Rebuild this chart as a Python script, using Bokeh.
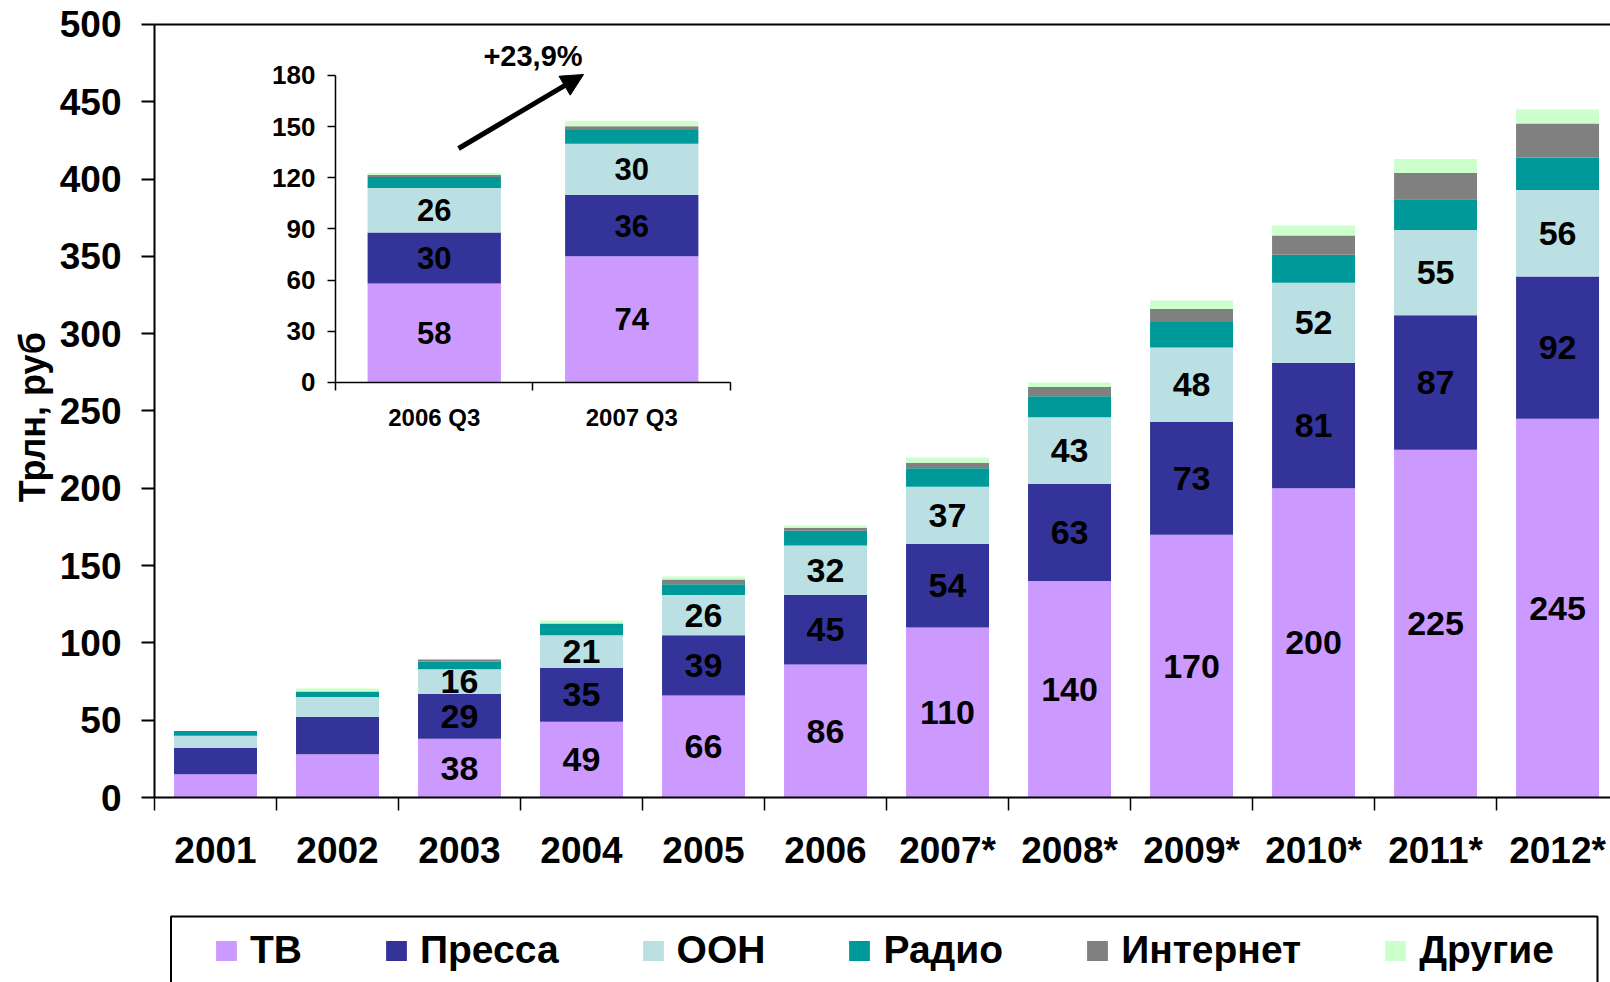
import math
from bokeh.plotting import figure
from bokeh.models import (ColumnDataSource, Range1d, LinearAxis, FixedTicker, Arrow,
                          NormalHead, Label, BoxAnnotation)
from bokeh.core.properties import value
from bokeh.embed import file_html
from bokeh.resources import INLINE

# ---------------- data ----------------
years = ["2001", "2002", "2003", "2004", "2005", "2006",
         "2007*", "2008*", "2009*", "2010*", "2011*", "2012*"]
tv       = [15, 28, 38, 49, 66, 86, 110, 140, 170, 200, 225, 245]
press    = [17, 24, 29, 35, 39, 45, 54, 63, 73, 81, 87, 92]
ooh      = [8, 13, 16, 21, 26, 32, 37, 43, 48, 52, 55, 56]
radio    = [3, 3.5, 5, 7.5, 7, 9.5, 12, 13.5, 16.5, 18, 20, 21]
internet = [0, 0, 1.3, 0, 3, 2, 3.5, 6, 8.5, 12.5, 17, 22]
other    = [0, 2, 0, 2, 2, 1.5, 3.5, 3, 5.5, 6.5, 9, 9]
label_from = 2  # first year whose values are printed in the bars

quarters   = ["2006 Q3", "2007 Q3"]
q_tv       = [58, 74]
q_press    = [30, 36]
q_ooh      = [26, 30]
q_radio    = [6.5, 8]
q_internet = [1.2, 2.3]
q_other    = [1.1, 3]
growth_text = "+23,9%"

series_names = ["ТВ", "Пресса", "ООН", "Радио", "Интернет", "Другие"]
colors = ["#CC99FF", "#333399", "#BBE0E3", "#009999", "#808080", "#CCFFCC"]
y_label = "Трлн, руб"
main_ticks = list(range(0, 501, 50))
inset_ticks = list(range(0, 181, 30))

# annotation placement
arrow_start = (0.623, 137.2)     # inset coordinates
arrow_end = (1.256, 180.6)
growth_pos = (1.0, 191.7)
ylabel_pos = (-1.0, 246.0)       # main coordinates

FONT = "Liberation Sans"
keys = ["tv", "press", "ooh", "radio", "internet", "other"]
W, H = 1610, 982

# ---------------- figure (frame = whole canvas) ----------------
p = figure(width=W, height=H, output_backend="svg", toolbar_location=None,
           x_range=Range1d(-1.2623, 11.934), y_range=Range1d(-119.66, 515.52),
           x_axis_location=None, y_axis_location=None,
           min_border_left=0, min_border_right=0, min_border_top=0, min_border_bottom=0)
p.xgrid.visible = False
p.ygrid.visible = False
p.outline_line_color = None
p.extra_x_ranges = {"ix": Range1d(-1.6962, 6.4557)}
p.extra_y_ranges = {"iy": Range1d(-351.8, 223.97)}

# main bars
src = ColumnDataSource(dict(x=[i + 0.5 for i in range(len(years))], tv=tv, press=press,
                            ooh=ooh, radio=radio, internet=internet, other=other))
p.vbar_stack(keys, x="x", width=0.68, source=src, fill_color=colors, line_color=None,
             legend_label=series_names)

# main value labels
lx, ly, lt = [], [], []
for i in range(label_from, len(years)):
    base = 0
    for s in (tv, press, ooh):
        lx.append(i + 0.5)
        ly.append(base + s[i] / 2)
        lt.append(str(s[i]))
        base += s[i]
p.text(x=lx, y=ly, text=lt, text_align="center", text_baseline="middle",
       text_font=value(FONT), text_font_style="bold", text_font_size="34px",
       text_color="black")

# inset bars
src2 = ColumnDataSource(dict(x=[i + 0.5 for i in range(len(quarters))], tv=q_tv,
                             press=q_press, ooh=q_ooh, radio=q_radio,
                             internet=q_internet, other=q_other))
p.vbar_stack(keys, x="x", width=0.675, source=src2, fill_color=colors, line_color=None,
             x_range_name="ix", y_range_name="iy")
ix, iy, it = [], [], []
for i in range(len(quarters)):
    base = 0
    for s in (q_tv, q_press, q_ooh):
        ix.append(i + 0.5)
        iy.append(base + s[i] / 2)
        it.append(str(s[i]))
        base += s[i]
p.text(x=ix, y=iy, text=it, text_align="center", text_baseline="middle",
       text_font=value(FONT), text_font_style="bold", text_font_size="31px",
       text_color="black", x_range_name="ix", y_range_name="iy")

# ---------------- main axes ----------------
xa = LinearAxis(fixed_location=0, bounds=(0, len(years)),
                ticker=FixedTicker(ticks=[i + 0.5 for i in range(len(years))],
                                   minor_ticks=list(range(len(years) + 1))))
xa.major_label_overrides = {i + 0.5: y for i, y in enumerate(years)}
xa.major_tick_line_color = None
xa.major_tick_out = 13
xa.major_tick_in = 0
xa.minor_tick_line_color = "black"
xa.minor_tick_out = 13
xa.minor_tick_in = 0
xa.minor_tick_line_width = 1.5
xa.axis_line_width = 2
xa.axis_line_color = "black"
xa.major_label_standoff = 19
xa.major_label_text_font = FONT
xa.major_label_text_font_style = "bold"
xa.major_label_text_font_size = "37px"
xa.major_label_text_color = "black"
p.add_layout(xa, "below")

ya = LinearAxis(fixed_location=0, bounds=(0, 500), ticker=FixedTicker(ticks=main_ticks))
ya.minor_tick_line_color = None
ya.major_tick_out = 13
ya.major_tick_in = 0
ya.major_tick_line_width = 2
ya.major_tick_line_color = "black"
ya.axis_line_width = 2
ya.axis_line_color = "black"
ya.major_label_standoff = 20
ya.major_label_text_font = FONT
ya.major_label_text_font_style = "bold"
ya.major_label_text_font_size = "37px"
ya.major_label_text_color = "black"
p.add_layout(ya, "left")

top = LinearAxis(fixed_location=500, bounds=(0, len(years)), ticker=FixedTicker(ticks=[]),
                 major_tick_out=0, major_tick_in=0, minor_tick_out=0, minor_tick_in=0,
                 axis_line_width=2, axis_line_color="black")
p.add_layout(top, "above")

p.add_layout(Label(x=ylabel_pos[0], y=ylabel_pos[1], text=y_label, angle=math.pi / 2,
                   text_align="center", text_baseline="middle",
                   text_font=FONT, text_font_style="bold", text_font_size="36px",
                   text_color="black"))

# ---------------- inset axes ----------------
iya = LinearAxis(x_range_name="ix", y_range_name="iy", fixed_location=0, bounds=(0, 180),
                 ticker=FixedTicker(ticks=inset_ticks))
iya.minor_tick_line_color = None
iya.major_tick_out = 8
iya.major_tick_in = 0
iya.major_tick_line_width = 1.5
iya.axis_line_width = 1.5
iya.major_label_standoff = 12
iya.major_label_text_font = FONT
iya.major_label_text_font_style = "bold"
iya.major_label_text_font_size = "26px"
iya.major_label_text_color = "black"
p.add_layout(iya, "left")

ixa = LinearAxis(x_range_name="ix", y_range_name="iy", fixed_location=0, bounds=(0, 2),
                 ticker=FixedTicker(ticks=[i + 0.5 for i in range(len(quarters))],
                                    minor_ticks=list(range(len(quarters) + 1))))
ixa.major_label_overrides = {i + 0.5: q for i, q in enumerate(quarters)}
ixa.major_tick_line_color = None
ixa.major_tick_out = 8
ixa.major_tick_in = 0
ixa.minor_tick_line_color = "black"
ixa.minor_tick_out = 8
ixa.minor_tick_in = 0
ixa.minor_tick_line_width = 1.5
ixa.axis_line_width = 1.5
ixa.major_label_standoff = 14
ixa.major_label_text_font = FONT
ixa.major_label_text_font_style = "bold"
ixa.major_label_text_font_size = "24px"
ixa.major_label_text_color = "black"
p.add_layout(ixa, "below")

# growth arrow & label
p.add_layout(Arrow(end=NormalHead(size=22, fill_color="black", line_color="black"),
                   x_start=arrow_start[0], y_start=arrow_start[1],
                   x_end=arrow_end[0], y_end=arrow_end[1],
                   line_width=5, line_color="black",
                   x_range_name="ix", y_range_name="iy"))
p.add_layout(Label(x=growth_pos[0], y=growth_pos[1], text=growth_text,
                   x_range_name="ix", y_range_name="iy",
                   text_align="center", text_baseline="middle",
                   text_font=FONT, text_font_style="bold", text_font_size="29px",
                   text_color="black"))

# ---------------- legend ----------------
leg = p.legend[0]
leg.orientation = "horizontal"
leg.location = (213, 10)
leg.border_line_color = None
leg.background_fill_alpha = 0
leg.padding = 0
leg.margin = 0
leg.spacing = 81
leg.glyph_width = 26
leg.glyph_height = 25
leg.label_standoff = 11
leg.label_text_font = FONT
leg.label_text_font_style = "bold"
leg.label_text_font_size = "39px"
leg.label_text_color = "black"

p.add_layout(BoxAnnotation(left=170.5, right=1597, top=916, bottom=1010,
                           left_units="canvas", right_units="canvas",
                           top_units="canvas", bottom_units="canvas",
                           fill_color=None, fill_alpha=0,
                           line_color="black", line_alpha=1.0, line_width=2))

open("out.html", "w").write(file_html(p, INLINE))
